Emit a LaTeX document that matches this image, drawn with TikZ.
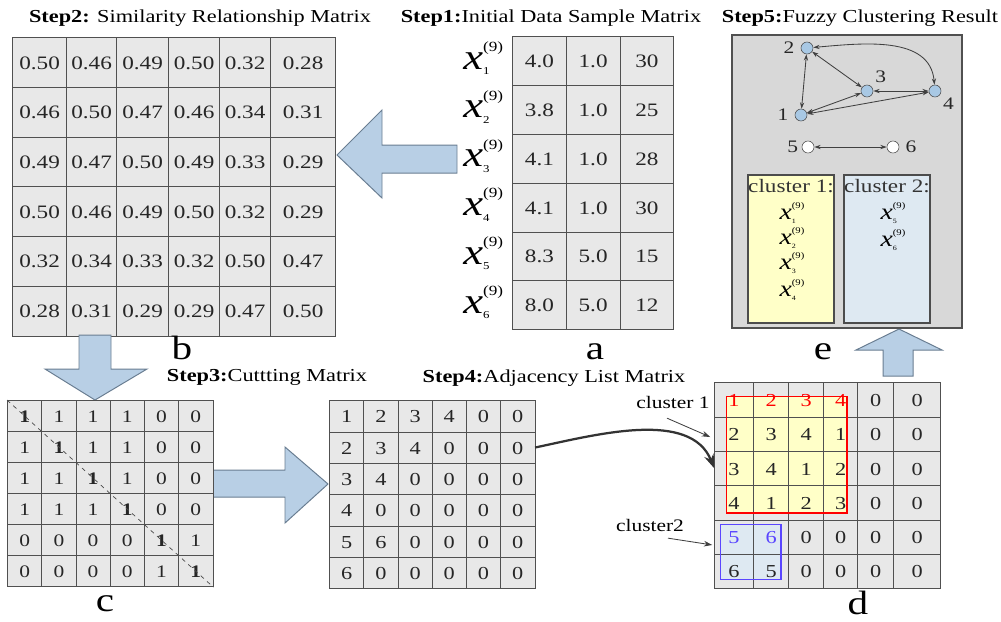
\documentclass[tikz,border=0pt]{standalone}
\usepackage{fontspec}
\setmainfont{Liberation Serif}[FakeStretch=1.22]
\usepackage{graphicx}
\usetikzlibrary{matrix,positioning,arrows.meta,backgrounds}

\definecolor{cellgray}{RGB}{232,232,232}
\definecolor{linegray}{RGB}{80,80,80}
\definecolor{arrowblue}{RGB}{184,207,229}
\definecolor{arrowedge}{RGB}{105,125,145}
\definecolor{panelgray}{RGB}{216,216,216}
\definecolor{vertblue}{RGB}{168,200,228}
\definecolor{clusteryellow}{RGB}{255,255,200}
\definecolor{clusterblue}{RGB}{222,233,242}
\definecolor{boxblue}{RGB}{90,70,255}

\newcommand{\xnine}[2][1]{\scalebox{#1}{{\fontsize{26}{26}\selectfont\itshape x}%
  \rlap{\raisebox{-4pt}{\fontsize{7.5}{7.5}\selectfont #2}}%
  \raisebox{12.5pt}{\fontsize{10}{10}\selectfont(9)}}}

\begin{document}
\begin{tikzpicture}[x=0.025cm, y=-0.025cm,
  cell/.style={draw=linegray, fill=cellgray, inner sep=0pt, text=black!85,
               text height=9.5pt, text depth=0pt},
  grid/.style={matrix of nodes, inner sep=0pt, anchor=north west,
               column sep=-\pgflinewidth, row sep=-\pgflinewidth, nodes={cell}},
  steptitle/.style={font=\fontsize{13}{15}\selectfont},
  tag/.style={font=\fontsize{24}{26}\selectfont},
  blockarrow/.style={fill=arrowblue, draw=arrowedge, line width=0.7pt},
  vert/.style={circle, draw=black!70, fill=vertblue, minimum size=0.3cm, inner sep=0pt},
  link/.style={draw=black!75, line width=0.6pt,
               {Stealth[length=4.5pt,width=3pt]}-{Stealth[length=4.5pt,width=3pt]}},
  pointer/.style={draw=black!75, line width=0.6pt, -{Stealth[length=6pt,width=4pt]}},
  clusterbox/.style={draw=black!70, line width=0.8pt, minimum width=2.15cm, minimum height=3.7cm},
  every label/.style={font=\fontsize{12.5}{14}\selectfont, text=black!85},
]
\useasboundingbox (0,0) rectangle (1001,621);

% === Step 2: similarity matrix (b) ===
\node[steptitle] (t2) at (200,18) {\textbf{Step2:} Similarity Relationship Matrix};
\matrix[grid, nodes={minimum height=1.2425cm, font=\fontsize{13.5}{15}\selectfont},
        column 1/.style={nodes={minimum width=1.35cm}},
        column 2/.style={nodes={minimum width=1.25cm}},
        column 3/.style={nodes={minimum width=1.3cm}},
        column 4/.style={nodes={minimum width=1.275cm}},
        column 5/.style={nodes={minimum width=1.275cm}},
        column 6/.style={nodes={minimum width=1.625cm}}] (sim) at (12,37) {
0.50 & 0.46 & 0.49 & 0.50 & 0.32 & 0.28 \\
0.46 & 0.50 & 0.47 & 0.46 & 0.34 & 0.31 \\
0.49 & 0.47 & 0.50 & 0.49 & 0.33 & 0.29 \\
0.50 & 0.46 & 0.49 & 0.50 & 0.32 & 0.29 \\
0.32 & 0.34 & 0.33 & 0.32 & 0.50 & 0.47 \\
0.28 & 0.31 & 0.29 & 0.29 & 0.47 & 0.50 \\
};
\node[tag] (tagb) at (182,348) {b};

% === Step 1: data sample matrix (a) ===
\node[steptitle] (t1) at (551,18) {\textbf{Step1:}Initial Data Sample Matrix};
\matrix[grid, nodes={minimum width=1.3425cm, minimum height=1.22cm,
        font=\fontsize{13.5}{15}\selectfont}] (data) at (512,36) {
4.0 & 1.0 & 30 \\
3.8 & 1.0 & 25 \\
4.1 & 1.0 & 28 \\
4.1 & 1.0 & 30 \\
8.3 & 5.0 & 15 \\
8.0 & 5.0 & 12 \\
};
\node[left=3pt of data-1-1, yshift=2pt] (x1) {\xnine{1}};
\node[left=3pt of data-2-1, yshift=2pt] (x2) {\xnine{2}};
\node[left=3pt of data-3-1, yshift=2pt] (x3) {\xnine{3}};
\node[left=3pt of data-4-1, yshift=2pt] (x4) {\xnine{4}};
\node[left=3pt of data-5-1, yshift=2pt] (x5) {\xnine{5}};
\node[left=3pt of data-6-1, yshift=2pt] (x6) {\xnine{6}};
\node[tag] (taga) at (595,352) {a};

% block arrows between the steps
\coordinate (tipab) at (337,155);
\draw[blockarrow] (tipab) -- ++(45,-45) -- ++(0,35) -- ++(75,0) -- ++(0,28)
  -- ++(-75,0) -- ++(0,25) -- cycle;
\coordinate (tipbc) at (95,400);
\draw[blockarrow] (tipbc) -- ++(52,-31) -- ++(-36,0) -- ++(0,-34) -- ++(-32,0)
  -- ++(0,34) -- ++(-34,0) -- cycle;
\coordinate (tipcd) at (328,484);
\draw[blockarrow] (tipcd) -- ++(-43,-37) -- ++(0,23) -- ++(-73,0) -- ++(0,27)
  -- ++(73,0) -- ++(0,26) -- cycle;
\coordinate (tipde) at (899,329);
\draw[blockarrow] (tipde) -- ++(43,21) -- ++(-29,0) -- ++(0,26) -- ++(-30,0)
  -- ++(0,-26) -- ++(-27,0) -- cycle;

% === Step 3: cutting matrix (c) ===
\node[steptitle] (t3) at (267,377) {\textbf{Step3:}Cuttting Matrix};
\matrix[grid, nodes={minimum width=0.855cm, minimum height=0.775cm,
        font=\fontsize{12.5}{14}\selectfont}] (cut) at (7,400) {
|[font=\fontsize{12.5}{14}\selectfont\bfseries]| 1 & 1 & 1 & 1 & 0 & 0 \\
1 & |[font=\fontsize{12.5}{14}\selectfont\bfseries]| 1 & 1 & 1 & 0 & 0 \\
1 & 1 & |[font=\fontsize{12.5}{14}\selectfont\bfseries]| 1 & 1 & 0 & 0 \\
1 & 1 & 1 & |[font=\fontsize{12.5}{14}\selectfont\bfseries]| 1 & 0 & 0 \\
0 & 0 & 0 & 0 & |[font=\fontsize{12.5}{14}\selectfont\bfseries]| 1 & 1 \\
0 & 0 & 0 & 0 & 1 & |[font=\fontsize{12.5}{14}\selectfont\bfseries]| 1 \\
};
\draw[dashed, black!70, line width=0.5pt] (cut.north west) -- (cut.south east);
\node[tag] (tagc) at (105,604) {c};

% === Step 4: adjacency list matrix ===
\node[steptitle] (t4) at (554,378) {\textbf{Step4:}Adjacency List Matrix};
\matrix[grid, nodes={minimum width=0.855cm, minimum height=0.7825cm,
        font=\fontsize{13}{15}\selectfont}] (adj) at (329,400) {
1 & 2 & 3 & 4 & 0 & 0 \\
2 & 3 & 4 & 0 & 0 & 0 \\
3 & 4 & 0 & 0 & 0 & 0 \\
4 & 0 & 0 & 0 & 0 & 0 \\
5 & 6 & 0 & 0 & 0 & 0 \\
6 & 0 & 0 & 0 & 0 & 0 \\
};

% === result matrix (d) ===
\matrix[grid, nodes={minimum height=0.8575cm, fill=none, font=\fontsize{13}{15}\selectfont},
        column 1/.style={nodes={minimum width=0.975cm}},
        column 2/.style={nodes={minimum width=0.875cm}},
        column 3/.style={nodes={minimum width=0.875cm}},
        column 4/.style={nodes={minimum width=0.85cm}},
        column 5/.style={nodes={minimum width=0.9cm}},
        column 6/.style={nodes={minimum width=1.175cm}}] (res) at (714,382) {
|[text=red]| 1 & |[text=red]| 2 & |[text=red]| 3 & |[text=red]| 4 & 0 & 0 \\
2 & 3 & 4 & 1 & 0 & 0 \\
3 & 4 & 1 & 2 & 0 & 0 \\
4 & 1 & 2 & 3 & 0 & 0 \\
|[text=boxblue]| 5 & |[text=boxblue]| 6 & 0 & 0 & 0 & 0 \\
6 & 5 & 0 & 0 & 0 & 0 \\
};
\begin{scope}[on background layer]
  \fill[cellgray] (res.north west) rectangle (res.south east);
  \fill[clusteryellow] ([shift={(12,14)}]res-1-1.north west) rectangle ([shift={(-11,-7)}]res-4-4.south east);
  \fill[clusterblue] ([shift={(6,5)}]res-5-1.north west) rectangle ([shift={(-8,-9)}]res-6-2.south east);
\end{scope}
\draw[red, line width=1.1pt] ([shift={(12,14)}]res-1-1.north west) rectangle ([shift={(-11,-7)}]res-4-4.south east);
\draw[boxblue, line width=1.1pt] ([shift={(6,5)}]res-5-1.north west) rectangle ([shift={(-8,-9)}]res-6-2.south east);
\node[tag] (tagd) at (858,603) {d};

\node[font=\fontsize{12.5}{14}\selectfont] (lab1) at (673,402) {cluster 1};
\node[font=\fontsize{12.5}{14}\selectfont] (lab2) at (650,525) {cluster2};
\draw[pointer] ([shift={(-6,5)}]lab1.south) -- ([shift={(-4,3)}]res-2-1.west);
\draw[pointer] ([shift={(18,2)}]lab2.south) -- ([shift={(-2,8)}]res-5-1.west);
\draw[black!80, line width=1.6pt, -{Stealth[length=10pt,width=7pt]}]
  (adj-2-6.east) to[out=12, in=112, looseness=0.9] (res-3-1.west);

% === Step 5: clustering result (e) ===
\node[steptitle] (t5) at (860,18) {\textbf{Step5:}Fuzzy Clustering Result};
\node[draw=linegray, fill=panelgray, line width=0.9pt, minimum width=5.75cm,
      minimum height=7.325cm] (panel) at (847,181.5) {};
\node[vert, label={[label distance=1pt]left:2}] (v2) at (807,48) {};
\node[vert, label={[label distance=-1pt]above right:3}] (v3) at (867,91) {};
\node[vert, label={[label distance=-2pt]-25:4}] (v4) at (935,91) {};
\node[vert, label={[label distance=1pt]left:1}] (v1) at (801,115) {};
\node[vert, fill=white, label={[label distance=-1pt]left:5}] (v5) at (808,147) {};
\node[vert, fill=white, label={[label distance=1pt]right:6}] (v6) at (893,147) {};
\draw[link] (v2) -- (v1);
\draw[link] (v2) -- (v3);
\draw[link] (v1) -- (v3);
\draw[link] (v3) -- (v4);
\draw[link] (v1) -- (v4);
\draw[link] (v2) to[out=5, in=95] (v4);
\draw[link] (v5) -- (v6);

\node[clusterbox, fill=clusteryellow] (c1) at (791,249) {};
\node[clusterbox, fill=clusterblue] (c2) at (887,249) {};
\node[below=0pt of c1.north, font=\fontsize{13.5}{15}\selectfont, text=black!80] (c1t) {cluster 1:};
\node[below=0pt of c2.north, font=\fontsize{13.5}{15}\selectfont, text=black!80] (c2t) {cluster 2:};
\node (m1) at (792,213) {\xnine[0.62]{1}};
\node (m2) at (792,238) {\xnine[0.62]{2}};
\node (m3) at (792,263) {\xnine[0.62]{3}};
\node (m4) at (792,290) {\xnine[0.62]{4}};
\node (m5) at (893,213) {\xnine[0.62]{5}};
\node (m6) at (893,240) {\xnine[0.62]{6}};
\node[tag] (tage) at (823,352) {e};

\end{tikzpicture}
\end{document}
